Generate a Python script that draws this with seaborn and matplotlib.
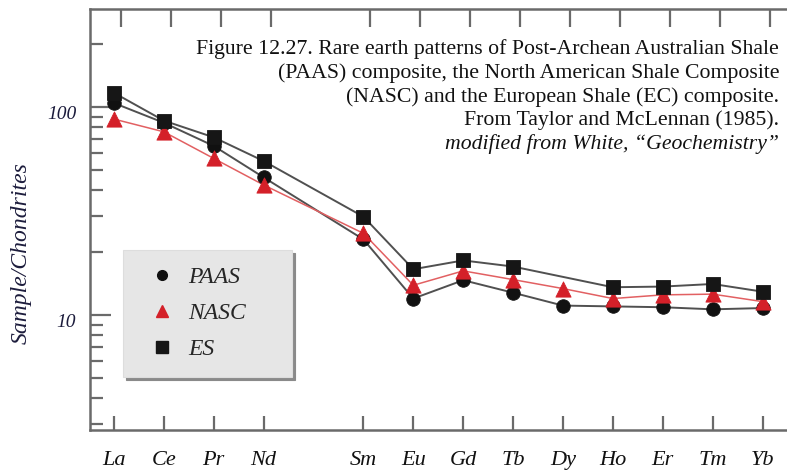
import numpy as np
import pandas as pd
import matplotlib
matplotlib.use("Agg")
import matplotlib.pyplot as plt
from matplotlib.ticker import LogLocator, NullFormatter, FixedLocator, FixedFormatter
from matplotlib.lines import Line2D
from matplotlib.transforms import ScaledTranslation
import seaborn as sns

# Lanthanide series in atomic order (Pm and Lu have no data)
lanthanides = ["La", "Ce", "Pr", "Nd", "Pm", "Sm", "Eu", "Gd", "Tb", "Dy",
               "Ho", "Er", "Tm", "Yb", "Lu"]
elements = ["La", "Ce", "Pr", "Nd", "Sm", "Eu", "Gd", "Tb", "Dy",
            "Ho", "Er", "Tm", "Yb"]

# Chondrite-normalized abundances
paas = [104.5, 84.0, 65.0, 45.9, 23.1, 12.0, 14.7, 12.8, 11.1, 11.0, 10.9, 10.65, 10.8]
nasc = [87.5, 76.0, 56.6, 42.2, 24.7, 13.9, 16.3, 14.8, 13.4, 12.0, 12.5, 12.6, 11.6]
es = [117.0, 86.0, 71.5, 55.0, 29.7, 16.6, 18.3, 17.1, np.nan, 13.6, 13.7, 14.1, 12.95]

series_names = ["PAAS", "NASC", "ES"]
series_values = [paas, nasc, es]

rows = []
for name, vals in zip(series_names, series_values):
    for el, v in zip(elements, vals):
        if not np.isnan(v):
            rows.append({"series": name, "element": el,
                         "pos": lanthanides.index(el), "value": v})
df = pd.DataFrame(rows)

sns.set_theme(style="white")
plt.rcParams["font.family"] = ["Liberation Serif", "DejaVu Serif"]

fig = plt.figure(figsize=(7.87, 4.74), dpi=100)
ax = fig.add_axes([90 / 787, 1 - 430 / 474, 1 - 90 / 787, (430 - 9) / 474])

line_colors = {"PAAS": "#505050", "NASC": "#e26062", "ES": "#505050"}
line_widths = {"PAAS": 1.4, "NASC": 1.1, "ES": 1.4}
marker_colors = {"PAAS": "#111111", "NASC": "#d42029", "ES": "#161616"}
markers = {"PAAS": "o", "NASC": "^", "ES": "s"}
sizes = {"PAAS": 95, "NASC": 120, "ES": 95}

for name in series_names:
    sub = df[df["series"] == name]
    sns.lineplot(data=sub, x="pos", y="value", color=line_colors[name],
                 linewidth=line_widths[name], ax=ax, sort=True, estimator=None)

for name in series_names:
    sub = df[df["series"] == name]
    sns.scatterplot(data=sub, x="pos", y="value", marker=markers[name],
                    color=marker_colors[name], s=sizes[name],
                    edgecolor=marker_colors[name], linewidth=0.6,
                    ax=ax, zorder=3)

ax.set_yscale("log")
ax.set_xlim(-0.48, 13.49)
ax.set_ylim(2.8, 296)

# axis ticks
xpos = [lanthanides.index(el) for el in elements]
ax.xaxis.set_major_locator(FixedLocator(xpos))
ax.xaxis.set_major_formatter(FixedFormatter(elements))
ax.yaxis.set_major_locator(FixedLocator([10, 100]))
ax.yaxis.set_major_formatter(FixedFormatter(["10", "100"]))
ax.yaxis.set_minor_locator(LogLocator(base=10, subs=np.arange(2, 10)))
ax.yaxis.set_minor_formatter(NullFormatter())

spine_color = "#6a6a6a"
ax.tick_params(axis="x", which="major", bottom=True, direction="in", length=10,
               width=1.6, color=spine_color, pad=15, labelsize=16,
               labelcolor="#111111")
ax.tick_params(axis="y", which="major", left=True, direction="in", length=15,
               width=1.6, color=spine_color, pad=10, labelsize=14,
               labelcolor="#1c1c3c")
ax.tick_params(axis="y", which="minor", left=True, direction="in", length=9,
               width=1.6, color=spine_color)
for lab in ax.get_xticklabels() + ax.get_yticklabels():
    lab.set_fontstyle("italic")
shift = ScaledTranslation(0, -5 / 100, fig.dpi_scale_trans)
for lab in ax.get_yticklabels():
    lab.set_transform(lab.get_transform() + shift)

for side in ["left", "bottom", "top"]:
    ax.spines[side].set_visible(True)
    ax.spines[side].set_color(spine_color)
    ax.spines[side].set_linewidth(1.8)
ax.spines["right"].set_visible(False)

# top tick row
top = ax.secondary_xaxis("top", functions=(lambda x: x - 0.14, lambda x: x + 0.14))
top.xaxis.set_major_locator(FixedLocator(xpos))
top.tick_params(axis="x", direction="in", length=13, width=1.6,
                color=spine_color, labeltop=False)
top.spines["top"].set_visible(False)

ax.set_xlabel("")
ax.set_ylabel("Sample/Chondrites", fontsize=17, fontstyle="italic",
              color="#1c1c3c")
ax.yaxis.set_label_coords(-0.084, 0.42)

# caption, one line at a time
caption_lines = [
    "Figure 12.27. Rare earth patterns of Post-Archean Australian Shale",
    "(PAAS) composite, the North American Shale Composite",
    "(NASC) and the European Shale (EC) composite.",
    "From Taylor and McLennan (1985).",
]
caption_y = [47, 71, 95, 118]
for txt, yy in zip(caption_lines, caption_y):
    fig.text(779 / 787, 1 - yy / 474, txt, ha="right", va="center_baseline",
             fontsize=15.7, color="#111111", family="Liberation Serif")
fig.text(779 / 787, 1 - 142 / 474, "modified from White, \u201cGeochemistry\u201d",
         ha="right", va="center_baseline", fontsize=15.7, fontstyle="italic",
         color="#111111", family="Liberation Serif")

# legend
handles = [Line2D([], [], linestyle="none", marker=markers[n],
                  markerfacecolor=marker_colors[n], markeredgecolor=marker_colors[n],
                  markersize={"PAAS": 7, "NASC": 9, "ES": 8}[n]) for n in series_names]
leg_w = (292 - 123) / 697
leg = ax.legend(handles, series_names, loc="upper left", mode="expand",
                bbox_to_anchor=(33 / 697, 1 - (250 - 9) / 421, leg_w, 0.0),
                frameon=True, fancybox=False,
                facecolor="#e6e6e6", edgecolor="#dddddd", framealpha=1,
                shadow={"color": "#8a8a8a", "alpha": 1},
                prop={"family": "Liberation Serif", "style": "italic", "size": 17},
                borderpad=0.7, labelspacing=0.62, handletextpad=0.15,
                borderaxespad=0, handlelength=1.9)
leg.get_frame().set_linewidth(0.8)

fig.savefig("out.png", dpi=100)
